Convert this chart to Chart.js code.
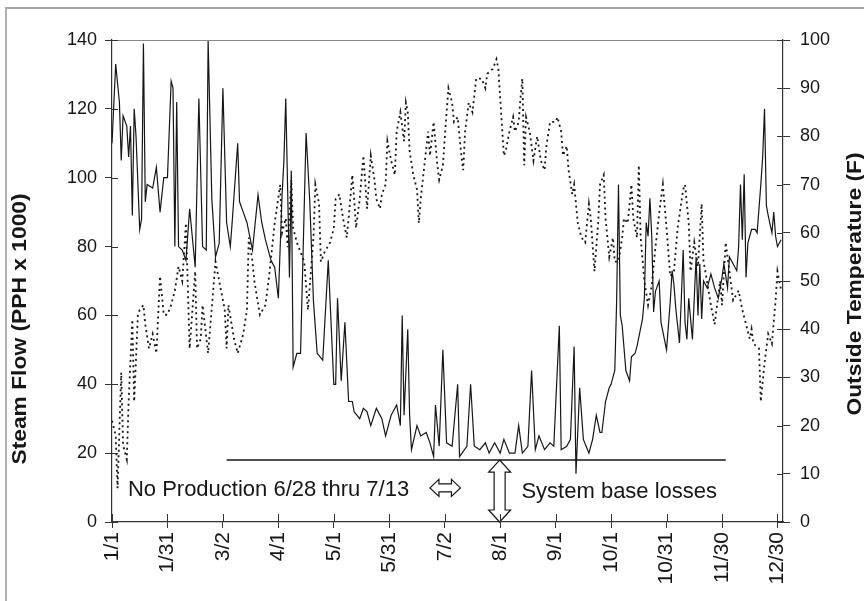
<!DOCTYPE html>
<html>
<head>
<meta charset="utf-8">
<script src="https://cdn.jsdelivr.net/npm/chart.js@4.4.1/dist/chart.umd.min.js"></script>
<style>
  html, body { margin: 0; padding: 0; background: #fff; }
  #wrap { position: relative; width: 864px; height: 601px; }
  #frame { position: absolute; left: 5px; top: 7px; right: 0; bottom: 0; border-top: 2px solid #a8a8a8; border-left: 2px solid #b0b0b0; pointer-events: none; }
</style>
</head>
<body>
<div id="wrap">
  <canvas id="steamChart" width="864" height="601"></canvas>
  <div id="frame"></div>
</div>
<script>
// x axis: day of year, labelled every 30 days
const tickDays = [0, 30, 60, 90, 120, 150, 180, 210, 240, 270, 300, 330, 360];
const tickLabels = ['1/1', '1/31', '3/2', '4/1', '5/1', '5/31', '7/2', '8/1', '9/1', '10/1', '10/31', '11/30', '12/30'];

// steam flow (PPH x 1000)
const stmDay = [0,2,4,5,6,8,9,10,11,12,13,15,16,17,18,19,22,24,26,28,30,32,33,34,35,36,38,40,42,45,47,49,51,52,54,56,58,60,62,64,65,68,69,71,73,76,79,81,83,86,88,90,92,93,94,96,97,98,100,102,105,107,109,111,114,117,120,121,122,124,126,128,130,131,134,136,138,140,143,146,148,151,154,156,157,158,160,161,162,165,167,170,172,174,175,177,179,181,184,187,188,192,194,196,199,202,204,207,210,212,215,218,220,222,225,227,229,231,234,237,239,242,243,246,248,250,251,253,255,258,260,262,264,265,267,269,270,272,273,274,275,276,278,280,281,283,284,287,288,289,290,291,292,293,294,296,297,300,302,303,304,305,307,308,309,310,311,312,313,314,315,316,317,318,319,320,322,324,326,328,330,331,333,334,336,338,339,340,341,342,343,344,346,348,349,351,352,353,354,355,357,358,359,360,362];
const stmFlow = [110,133,122,105,118,115,106,115,89,120,112,85,88,139,93,98,97,103,90,100,100,128,126,80,122,80,79,76,91,74,123,80,79,140,94,77,81,126,87,80,87,110,93,90,87,79,95,87,82,76,74,65,95,105,123,71,102,45,49,49,113,93,64,49,47,76,40,40,65,41,58,35,35,32,30,33,32,28,33,30,25,31,34,28,60,31,56,31,21,28,25,26,23,19,34,22,50,23,22,40,19,22,40,22,21,23,20,23,20,24,20,20,28,20,22,44,21,25,21,23,22,57,21,22,24,51,14,39,24,20,24,31,26,26,35,39,40,44,64,98,60,57,44,41,48,49,51,59,65,87,83,94,83,61,67,70,58,50,64,73,69,62,52,65,79,58,53,65,59,53,65,77,60,75,59,70,68,72,68,65,71,75,68,77,75,73,80,98,82,101,71,81,85,85,84,98,106,120,92,89,84,90,83,80,82];

// outside temperature (F)
const tmpDay = [0,2,3,5,6,8,9,11,12,14,15,17,18,20,22,24,26,28,30,32,34,36,38,40,42,45,46,48,49,52,56,58,61,62,63,66,68,71,73,74,76,77,80,83,85,88,91,92,94,95,97,98,100,102,104,106,109,110,112,113,115,118,120,121,123,125,127,128,130,131,132,134,136,138,140,142,143,145,146,148,149,151,153,154,156,158,159,160,161,163,165,166,167,169,171,172,174,176,177,179,181,182,184,185,187,189,190,191,193,195,197,200,202,203,206,208,209,211,212,213,215,217,218,220,221,222,223,224,226,228,230,232,234,235,237,240,241,243,244,246,247,249,250,252,254,256,258,259,261,263,264,266,267,269,271,272,274,276,277,279,281,282,284,285,286,288,290,292,294,296,298,300,302,304,306,309,310,312,313,315,317,319,320,321,324,326,329,330,332,334,336,339,341,343,345,346,347,350,351,353,355,357,359,360,362];
const tmpVal = [21,18,7,31,16,13,25,42,25,43,44,45,41,36,39,35,51,43,43,45,48,53,50,62,36,52,36,38,45,35,54,50,44,36,45,38,35,39,44,59,54,50,43,45,51,62,70,60,63,57,71,61,58,56,54,44,59,70,66,54,56,58,61,67,68,63,59,63,72,67,61,67,76,65,76,71,67,65,68,70,79,75,72,81,85,79,87,85,77,72,69,62,67,74,81,76,83,74,71,74,85,90,87,83,84,76,73,81,87,85,92,92,90,93,94,96,94,82,76,77,81,84,81,83,88,92,74,84,81,75,80,75,73,78,83,83,84,81,76,78,73,68,70,62,59,58,66,63,52,62,70,72,63,55,59,54,54,59,63,62,70,63,59,74,59,50,45,49,57,64,70,61,51,52,61,69,70,62,52,58,53,66,54,52,45,41,50,45,58,52,46,48,44,41,38,40,37,36,25,33,39,37,46,52,48];

// base-loss line and notes
const baseDays = [62, 332];
const baseLevel = 18;
const noteLeft = 'No Production 6/28 thru 7/13';
const noteRight = 'System base losses';

const ink = '#161616';
const fontFam = '"Liberation Sans", Arial, sans-serif';

const annotate = {
  id: 'annotate',
  afterDatasetsDraw(chart) {
    const { ctx, chartArea, scales: { x, y } } = chart;
    ctx.save();
    // top border of plot
    ctx.strokeStyle = '#8a8a8a';
    ctx.lineWidth = 1.2;
    ctx.beginPath();
    ctx.moveTo(chartArea.left, chartArea.top + 0.5);
    ctx.lineTo(chartArea.right, chartArea.top + 0.5);
    ctx.stroke();

    ctx.fillStyle = ink;
    ctx.font = '22px ' + fontFam;
    ctx.textBaseline = 'middle';
    ctx.textAlign = 'left';
    ctx.fillText(noteLeft, x.getPixelForValue(8.6), y.getPixelForValue(9.3));
    ctx.fillText(noteRight, x.getPixelForValue(221.5), y.getPixelForValue(8.8));

    // hollow double arrows
    ctx.strokeStyle = ink;
    ctx.lineWidth = 1.2;
    ctx.fillStyle = '#fff';
    // horizontal
    let x0 = x.getPixelForValue(172), x1 = x.getPixelForValue(188.5), yc = y.getPixelForValue(9.9);
    let h = 9, hh = 8.5, sh = 4;
    ctx.beginPath();
    ctx.moveTo(x0, yc);
    ctx.lineTo(x0 + h, yc - hh); ctx.lineTo(x0 + h, yc - sh);
    ctx.lineTo(x1 - h, yc - sh); ctx.lineTo(x1 - h, yc - hh);
    ctx.lineTo(x1, yc);
    ctx.lineTo(x1 - h, yc + hh); ctx.lineTo(x1 - h, yc + sh);
    ctx.lineTo(x0 + h, yc + sh); ctx.lineTo(x0 + h, yc + hh);
    ctx.closePath();
    ctx.fill(); ctx.stroke();
    // vertical
    const xc = x.getPixelForValue(209.7);
    const y0 = y.getPixelForValue(baseLevel), y1 = y.getPixelForValue(0);
    h = 12; hh = 11, sh = 5.5;
    ctx.beginPath();
    ctx.moveTo(xc, y0);
    ctx.lineTo(xc + hh, y0 + h); ctx.lineTo(xc + sh, y0 + h);
    ctx.lineTo(xc + sh, y1 - h); ctx.lineTo(xc + hh, y1 - h);
    ctx.lineTo(xc, y1);
    ctx.lineTo(xc - hh, y1 - h); ctx.lineTo(xc - sh, y1 - h);
    ctx.lineTo(xc - sh, y0 + h); ctx.lineTo(xc - hh, y0 + h);
    ctx.closePath();
    ctx.fill(); ctx.stroke();
    ctx.restore();
  },
  afterDraw(chart) {
    const { ctx, chartArea, scales } = chart;
    ctx.save();
    // inner halves of the tick marks
    ctx.strokeStyle = '#333';
    ctx.lineWidth = 1;
    ctx.beginPath();
    scales.y.ticks.forEach(t => {
      const p = Math.round(scales.y.getPixelForValue(t.value)) + 0.5;
      ctx.moveTo(chartArea.left, p); ctx.lineTo(chartArea.left + 6, p);
    });
    scales.y2.ticks.forEach(t => {
      const p = Math.round(scales.y2.getPixelForValue(t.value)) + 0.5;
      ctx.moveTo(chartArea.right - 6, p); ctx.lineTo(chartArea.right, p);
    });
    scales.x.ticks.forEach(t => {
      const p = Math.round(scales.x.getPixelForValue(t.value)) + 0.5;
      ctx.moveTo(p, chartArea.bottom - 8); ctx.lineTo(p, chartArea.bottom);
    });
    ctx.stroke();

    // axis titles (stretched along their length like the scan)
    ctx.fillStyle = ink;
    ctx.font = 'bold 20px ' + fontFam;
    ctx.textAlign = 'center';
    ctx.textBaseline = 'middle';
    ctx.save();
    ctx.translate(20, chartArea.bottom - 193);
    ctx.rotate(-Math.PI / 2);
    ctx.scale(1.14, 1);
    ctx.fillText('Steam Flow (PPH x 1000)', 0, 0);
    ctx.restore();
    ctx.save();
    ctx.translate(855, (chartArea.top + chartArea.bottom) / 2 + 3);
    ctx.rotate(-Math.PI / 2);
    ctx.scale(1.14, 1);
    ctx.fillText('Outside Temperature (F)', 0, 0);
    ctx.restore();
    ctx.restore();
  }
};

const tickFont = { family: fontFam, size: 18 };

new Chart(document.getElementById('steamChart').getContext('2d'), {
  type: 'line',
  data: {
    datasets: [
      {
        label: 'Outside Temperature',
        data: tmpDay.map((d, i) => ({ x: d, y: tmpVal[i] })),
        yAxisID: 'y2',
        borderColor: ink,
        borderWidth: 1.8,
        borderDash: [2, 3.5],
        pointRadius: 0,
        tension: 0,
        fill: false
      },
      {
        label: 'Steam Flow',
        data: stmDay.map((d, i) => ({ x: d, y: stmFlow[i] })),
        yAxisID: 'y',
        borderColor: ink,
        borderWidth: 1.2,
        pointRadius: 0,
        tension: 0,
        fill: false
      },
      {
        label: 'Base losses',
        data: baseDays.map(d => ({ x: d, y: baseLevel })),
        yAxisID: 'y',
        borderColor: ink,
        borderWidth: 1.4,
        pointRadius: 0,
        fill: false
      }
    ]
  },
  options: {
    responsive: false,
    animation: false,
    devicePixelRatio: 1,
    layout: { padding: { top: 40, left: 0, right: 0, bottom: 0 } },
    plugins: { legend: { display: false }, tooltip: { enabled: false } },
    scales: {
      x: {
        type: 'linear',
        min: 0,
        max: 363,
        afterBuildTicks: s => { s.ticks = tickDays.map(v => ({ value: v })); },
        afterFit: s => { s.height = 79; },
        grid: { drawOnChartArea: false, tickLength: 6, color: '#333' },
        border: { display: true, color: '#333', width: 1.2 },
        ticks: {
          autoSkip: false,
          minRotation: 90,
          maxRotation: 90,
          padding: 4,
          color: ink,
          font: { family: fontFam, size: 21 },
          callback: (v, i) => tickLabels[i]
        }
      },
      y: {
        position: 'left',
        min: 0,
        max: 140,
        afterFit: s => { s.width = 112; },
        grid: { drawOnChartArea: false, tickLength: 7, color: '#333' },
        border: { display: true, color: '#333', width: 1.2 },
        ticks: { stepSize: 20, padding: 8, color: ink, font: tickFont }
      },
      y2: {
        position: 'right',
        min: 0,
        max: 100,
        afterFit: s => { s.width = 81; },
        grid: { drawOnChartArea: false, tickLength: 7, color: '#333' },
        border: { display: true, color: '#333', width: 1.2 },
        ticks: { stepSize: 10, padding: 10, color: ink, font: tickFont }
      }
    }
  },
  plugins: [annotate]
});
</script>
</body>
</html>
